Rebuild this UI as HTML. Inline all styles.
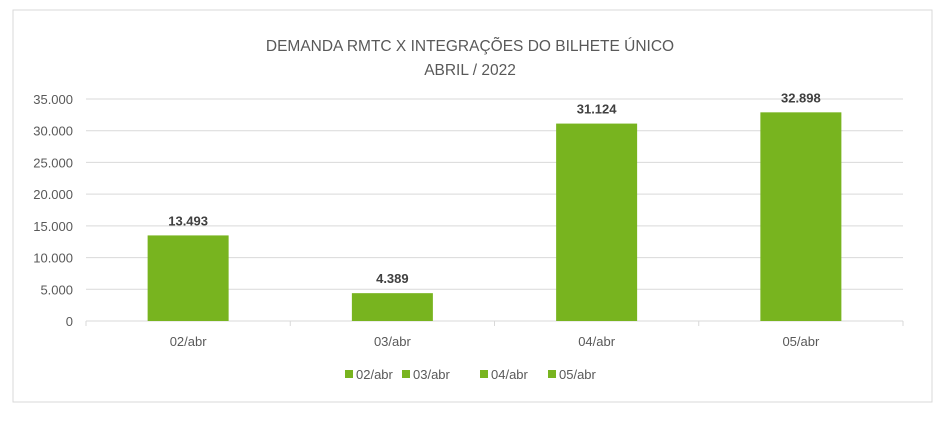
<!DOCTYPE html>
<html><head><meta charset="utf-8"><style>
body{margin:0;background:#fff;font-family:"Liberation Sans",sans-serif}
svg text{font-family:"Liberation Sans",sans-serif}
</style></head><body>
<svg width="945" height="417">
<rect x="13" y="10" width="919" height="392" fill="#fff" stroke="#d9d9d9"/>
<text x="470" y="51" text-anchor="middle" font-size="15.5" fill="#595959">DEMANDA RMTC X INTEGRAÇÕES DO BILHETE ÚNICO</text>
<text x="470" y="75" text-anchor="middle" font-size="15.5" fill="#595959">ABRIL / 2022</text>
<g id="grid"></g><g id="bars"></g><g id="legend"></g>
</svg>
<script>
const categories=["02/abr","03/abr","04/abr","05/abr"];
const values=[13493,4389,31124,32898];
const labels=["13.493","4.389","31.124","32.898"];
const ticks=[0,5000,10000,15000,20000,25000,30000,35000];
const tickLabels=["0","5.000","10.000","15.000","20.000","25.000","30.000","35.000"];
const NS="http://www.w3.org/2000/svg";
const x0=86,x1=903,yb=321,yt=99,ymax=35000,color="#78b41f";
const y=v=>yb-(v/ymax)*(yb-yt);
const bw=(x1-x0)/categories.length;
const xc=i=>x0+bw*(i+0.5);
function mk(t,a,p){const e=document.createElementNS(NS,t);for(const k in a)e.setAttribute(k,a[k]);p.appendChild(e);return e;}
const g=document.getElementById('grid'),b=document.getElementById('bars'),lg=document.getElementById('legend');
ticks.forEach((t,i)=>{
 const l=mk('line',{x1:x0,x2:x1,y1:y(t),y2:y(t),stroke:"#d9d9d9"},g);
 
 
 const tx=mk('text',{x:73,y:y(t)+5,'text-anchor':'end','font-size':13,fill:'#595959'},g);
 tx.textContent=tickLabels[i];
 
 
});
for(let i=0;i<=categories.length;i++){
 const l=mk('line',{x1:x0+bw*i,x2:x0+bw*i,y1:yb,y2:yb+5,stroke:"#d9d9d9"},g);
 
 
}
categories.forEach((c,i)=>{
 const w=81;
 const r=mk('rect',{x:xc(i)-w/2,y:y(values[i]),width:w,height:yb-y(values[i]),fill:color},b);
 
 
 const v=mk('text',{x:xc(i),y:y(values[i])-10,'text-anchor':'middle','font-size':13,'font-weight':'bold',fill:'#404040'},b);
 v.textContent=labels[i];
 
 
 const xl=mk('text',{x:xc(i),y:346,'text-anchor':'middle','font-size':13,fill:'#595959'},b);
 xl.textContent=c;
 
 
});
const lx=[345,402,480,548];
categories.forEach((c,i)=>{
 const s=mk('rect',{x:lx[i],y:370,width:8,height:8,fill:color},lg);
 
 
 const t=mk('text',{x:lx[i]+11,y:379,'font-size':13,fill:'#595959'},lg);
 t.textContent=c;
 
 
});
</script>
</body></html>
